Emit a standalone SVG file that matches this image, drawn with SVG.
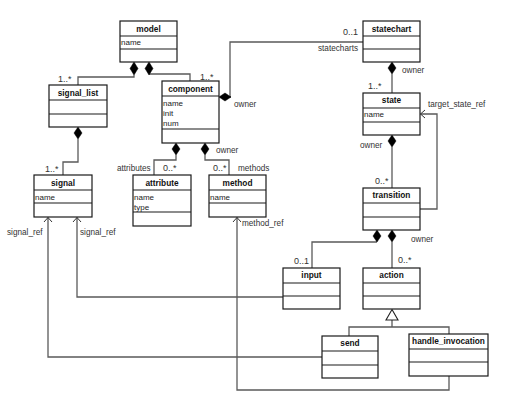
<svg xmlns="http://www.w3.org/2000/svg" width="508" height="410" viewBox="0 0 508 410">
<style>
.box{fill:#fff;stroke:#1a1a1a;stroke-width:1.2}
.sep{stroke:#1a1a1a;stroke-width:1.2}
.t{font-family:"Liberation Sans",Arial,sans-serif;font-size:8.3px;font-weight:bold;text-anchor:middle;fill:#111}
.a{font-family:"Liberation Sans",Arial,sans-serif;font-size:8px;fill:#222}
.l{font-family:"Liberation Sans",Arial,sans-serif;font-size:8.2px;fill:#333}
.m{font-family:"Liberation Sans",Arial,sans-serif;font-size:9px;fill:#333}
.c{fill:none;stroke:#5a5a5a;stroke-width:1.3}
.d{fill:#000;stroke:#000;stroke-width:0.5}
.ar{fill:none;stroke:#333;stroke-width:1}
</style>
<g id="connectors">
  <!-- model - signal_list -->
  <path class="c" d="M134,75 V77 H78 V85"/>
  <polygon class="d" points="134,62 138,68.5 134,75 130,68.5"/>
  <!-- model - component -->
  <path class="c" d="M149,74 H190 V81"/>
  <polygon class="d" points="149,62 153,68.5 149,75 145,68.5"/>
  <!-- component - statechart -->
  <path class="c" d="M231,97 H230 V42 H363"/>
  <polygon class="d" points="219,97 225,93 231,97 225,101"/>
  <!-- signal_list - signal -->
  <path class="c" d="M78,139 V162 H63 V175"/>
  <polygon class="d" points="78,127 82,133 78,139 74,133"/>
  <!-- component - attribute -->
  <path class="c" d="M176,155 V160 H154 V175"/>
  <polygon class="d" points="176,143 180,149 176,155 172,149"/>
  <!-- component - method -->
  <path class="c" d="M205,155 V160 H229 V175"/>
  <polygon class="d" points="205,143 209,149 205,155 201,149"/>
  <!-- statechart - state -->
  <path class="c" d="M392,74 V93"/>
  <polygon class="d" points="392,62 396,68 392,74 388,68"/>
  <!-- state - transition -->
  <path class="c" d="M392,147 V188"/>
  <polygon class="d" points="392,135 396,141 392,147 388,141"/>
  <!-- transition - state target -->
  <path class="c" d="M420,209 H437 V114 H420.5"/>
  <path class="ar" d="M425,110 L420.5,114 L425,118"/>
  <!-- transition - input -->
  <path class="c" d="M377,242 H312 V268"/>
  <polygon class="d" points="377,230 381,236 377,242 373,236"/>
  <!-- transition - action -->
  <path class="c" d="M392,242 V268"/>
  <polygon class="d" points="392,230 396,236 392,242 388,236"/>
  <!-- generalization -->
  <path class="c" d="M392,320 V327 M349,336 V327 H449 V334"/>
  <polygon points="392,309.5 398,320 386,320" fill="#fff" stroke="#222" stroke-width="1.1"/>
  <!-- input - signal -->
  <path class="c" d="M283,297 H77 V217.5"/>
  <path class="ar" d="M73,222 L77,217.5 L81,222"/>
  <!-- send - signal -->
  <path class="c" d="M322,357 H48 V217.5"/>
  <path class="ar" d="M44,222 L48,217.5 L52,222"/>
  <!-- handle_invocation - method -->
  <path class="c" d="M449,376 V390 H237 V217.5"/>
  <path class="ar" d="M233,222 L237,217.5 L241,222"/>
  <!-- labels -->
  <text class="m" x="58" y="82">1..*</text>
  <text class="m" x="200" y="80">1..*</text>
  <text class="l" x="234" y="107">owner</text>
  <text class="m" x="343" y="35">0..1</text>
  <text class="l" x="318" y="51">statecharts</text>
  <text class="l" x="402" y="73">owner</text>
  <text class="m" x="368" y="89">1..*</text>
  <text class="l" x="428" y="107">target_state_ref</text>
  <text class="l" x="360" y="148">owner</text>
  <text class="m" x="375" y="184">0..*</text>
  <text class="l" x="411" y="242">owner</text>
  <text class="m" x="294" y="264">0..1</text>
  <text class="m" x="398" y="263">0..*</text>
  <text class="m" x="45" y="172">1..*</text>
  <text class="l" x="117" y="171">attributes</text>
  <text class="m" x="163" y="171">0..*</text>
  <text class="l" x="216" y="153">owner</text>
  <text class="m" x="213" y="171">0..*</text>
  <text class="l" x="238" y="171">methods</text>
  <text class="l" x="7" y="235">signal_ref</text>
  <text class="l" x="80" y="235">signal_ref</text>
  <text class="l" x="242" y="226">method_ref</text>
</g>
<g id="model">
  <rect class="box" x="120" y="21" width="57" height="41"/>
  <line class="sep" x1="120" y1="36" x2="177" y2="36"/>
  <line class="sep" x1="120" y1="49" x2="177" y2="49"/>
  <text class="t" x="148.5" y="31.5">model</text>
  <text class="a" x="121" y="45">name</text>
</g>
<g id="signal_list">
  <rect class="box" x="49" y="85" width="58" height="42"/>
  <line class="sep" x1="49" y1="100" x2="107" y2="100"/>
  <line class="sep" x1="49" y1="114" x2="107" y2="114"/>
  <text class="t" x="78" y="95.5">signal_list</text>
</g>
<g id="component">
  <rect class="box" x="162" y="81" width="57" height="62"/>
  <line class="sep" x1="162" y1="96" x2="219" y2="96"/>
  <line class="sep" x1="162" y1="129" x2="219" y2="129"/>
  <text class="t" x="190.5" y="91.5">component</text>
  <text class="a" x="163" y="106">name</text>
  <text class="a" x="163" y="116">init</text>
  <text class="a" x="163" y="126">num</text>
</g>
<g id="statechart">
  <rect class="box" x="363" y="21" width="57" height="41"/>
  <line class="sep" x1="363" y1="36" x2="420" y2="36"/>
  <line class="sep" x1="363" y1="49" x2="420" y2="49"/>
  <text class="t" x="391.5" y="31.5">statechart</text>
</g>
<g id="state">
  <rect class="box" x="363" y="93" width="57" height="42"/>
  <line class="sep" x1="363" y1="108" x2="420" y2="108"/>
  <line class="sep" x1="363" y1="122" x2="420" y2="122"/>
  <text class="t" x="391.5" y="103">state</text>
  <text class="a" x="364" y="117">name</text>
</g>
<g id="transition">
  <rect class="box" x="363" y="188" width="57" height="42"/>
  <line class="sep" x1="363" y1="203" x2="420" y2="203"/>
  <line class="sep" x1="363" y1="217" x2="420" y2="217"/>
  <text class="t" x="391.5" y="198">transition</text>
</g>
<g id="signal">
  <rect class="box" x="34" y="175" width="58" height="42"/>
  <line class="sep" x1="34" y1="190" x2="92" y2="190"/>
  <line class="sep" x1="34" y1="203" x2="92" y2="203"/>
  <text class="t" x="63" y="185.5">signal</text>
  <text class="a" x="35" y="199.5">name</text>
</g>
<g id="attribute">
  <rect class="box" x="133" y="175" width="58" height="51"/>
  <line class="sep" x1="133" y1="190" x2="191" y2="190"/>
  <line class="sep" x1="133" y1="212" x2="191" y2="212"/>
  <text class="t" x="162" y="185.5">attribute</text>
  <text class="a" x="134" y="199.5">name</text>
  <text class="a" x="134" y="209.5">type</text>
</g>
<g id="method">
  <rect class="box" x="209" y="175" width="57" height="42"/>
  <line class="sep" x1="209" y1="190" x2="266" y2="190"/>
  <line class="sep" x1="209" y1="203" x2="266" y2="203"/>
  <text class="t" x="237.5" y="185.5">method</text>
  <text class="a" x="210" y="199.5">name</text>
</g>
<g id="input">
  <rect class="box" x="283" y="268" width="57" height="41"/>
  <line class="sep" x1="283" y1="283" x2="340" y2="283"/>
  <line class="sep" x1="283" y1="296" x2="340" y2="296"/>
  <text class="t" x="311.5" y="278">input</text>
</g>
<g id="action">
  <rect class="box" x="363" y="268" width="57" height="41"/>
  <line class="sep" x1="363" y1="283" x2="420" y2="283"/>
  <line class="sep" x1="363" y1="296" x2="420" y2="296"/>
  <text class="t" x="391.5" y="278">action</text>
</g>
<g id="send">
  <rect class="box" x="322" y="336" width="56" height="42"/>
  <line class="sep" x1="322" y1="351" x2="378" y2="351"/>
  <line class="sep" x1="322" y1="365" x2="378" y2="365"/>
  <text class="t" x="350" y="346">send</text>
</g>
<g id="handle_invocation">
  <rect class="box" x="409" y="334" width="79" height="42"/>
  <line class="sep" x1="409" y1="349" x2="488" y2="349"/>
  <line class="sep" x1="409" y1="362" x2="488" y2="362"/>
  <text class="t" x="448.5" y="344">handle_invocation</text>
</g>
</svg>
